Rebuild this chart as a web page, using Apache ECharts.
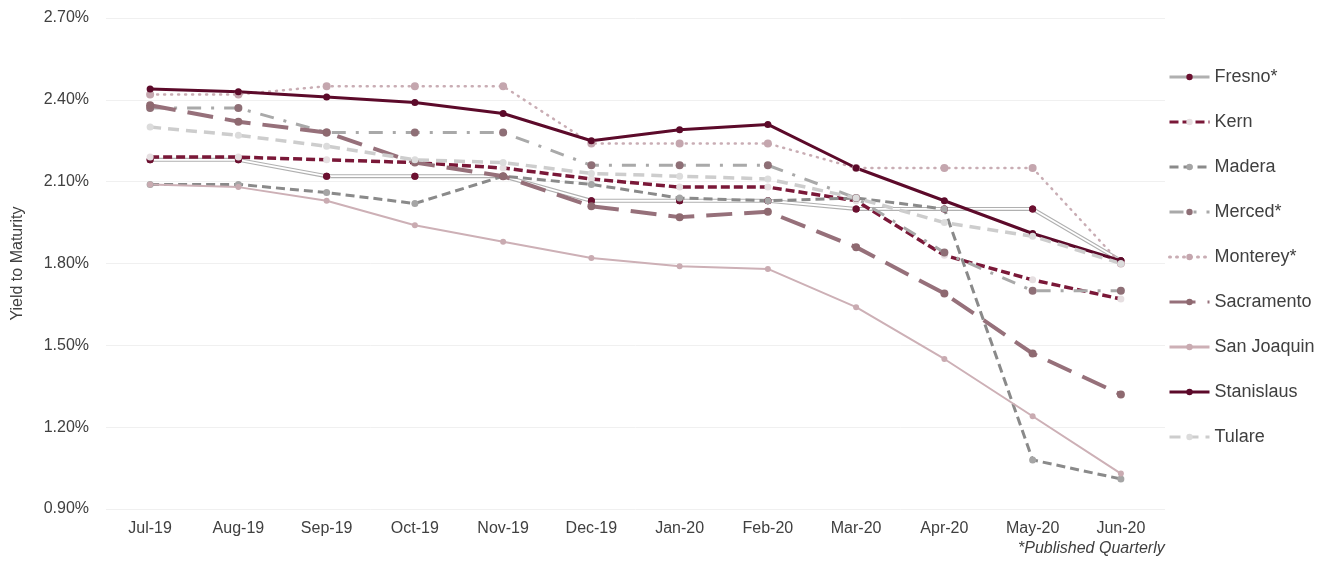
<!DOCTYPE html>
<html>
<head>
<meta charset="utf-8">
<script src="https://cdn.jsdelivr.net/npm/echarts@6/dist/echarts.min.js"></script>
<style>
  html, body { margin: 0; padding: 0; background: #fff; }
  #chart { width: 1327px; height: 561px; }
</style>
</head>
<body>
<div id="chart"></div>
<script>
// months on the x axis
var months = ["Jul-19", "Aug-19", "Sep-19", "Oct-19", "Nov-19", "Dec-19",
  "Jan-20", "Feb-20", "Mar-20", "Apr-20", "May-20", "Jun-20"];

// yield to maturity, in percent
var fresno     = [2.18, 2.18, 2.12, 2.12, 2.12, 2.03, 2.03, 2.03, 2.00, 2.00, 2.00, 1.81];
var kern       = [2.19, 2.19, 2.18, 2.17, 2.15, 2.11, 2.08, 2.08, 2.03, 1.83, 1.74, 1.67];
var madera     = [2.09, 2.09, 2.06, 2.02, 2.12, 2.09, 2.04, 2.03, 2.04, 2.00, 1.08, 1.01];
var merced     = [2.37, 2.37, 2.28, 2.28, 2.28, 2.16, 2.16, 2.16, 2.04, 1.84, 1.70, 1.70];
var monterey   = [2.42, 2.42, 2.45, 2.45, 2.45, 2.24, 2.24, 2.24, 2.15, 2.15, 2.15, 1.80];
var sacramento = [2.38, 2.32, 2.28, 2.17, 2.12, 2.01, 1.97, 1.99, 1.86, 1.69, 1.47, 1.32];
var sanJoaquin = [2.09, 2.08, 2.03, 1.94, 1.88, 1.82, 1.79, 1.78, 1.64, 1.45, 1.24, 1.03];
var stanislaus = [2.44, 2.43, 2.41, 2.39, 2.35, 2.25, 2.29, 2.31, 2.15, 2.03, 1.91, 1.81];
var tulare     = [2.30, 2.27, 2.23, 2.18, 2.17, 2.13, 2.12, 2.11, 2.04, 1.95, 1.90, 1.80];

var legendNames = ["Fresno*", "Kern", "Madera", "Merced*", "Monterey*",
  "Sacramento", "San Joaquin", "Stanislaus", "Tulare"];

var font = "Liberation Sans";
var textColor = "#404040";

function line(name, data, lineColor, markColor, width, type, size, cap) {
  return {
    name: name,
    type: "line",
    data: data,
    symbol: "circle",
    symbolSize: size || 7,
    itemStyle: { color: markColor },
    lineStyle: { color: lineColor, width: width, type: type, cap: cap || "butt" },
    emphasis: { disabled: true }
  };
}

var myChart = echarts.init(document.getElementById("chart"));
myChart.setOption({
  animation: false,
  backgroundColor: "#fff",
  grid: { left: 106, right: 162, top: 18, bottom: 52 },
  legend: {
    data: legendNames,
    orient: "vertical",
    left: 1163,
    top: 63,
    itemWidth: 40,
    itemHeight: 8,
    itemGap: 27,
    lineStyle: { width: 3 },
    textStyle: { fontFamily: font, fontSize: 18, color: textColor }
  },
  xAxis: {
    type: "category",
    data: months,
    boundaryGap: true,
    axisLine: { show: false },
    axisTick: { show: false },
    axisLabel: { fontFamily: font, fontSize: 16, color: textColor, margin: 12, interval: 0 }
  },
  yAxis: {
    type: "value",
    min: 0.9,
    max: 2.7,
    interval: 0.3,
    name: "Yield to Maturity",
    nameLocation: "middle",
    nameRotate: 90,
    nameGap: 80,
    nameTextStyle: { fontFamily: font, fontSize: 16, color: textColor },
    axisLabel: {
      fontFamily: font, fontSize: 16, color: textColor, margin: 17,
      formatter: function (v) { return v.toFixed(2) + "%"; }
    },
    splitLine: { lineStyle: { color: "#f0f0f0", width: 1 } }
  },
  graphic: [{
    type: "text",
    left: 1018,
    top: 541,
    style: {
      text: "*Published Quarterly",
      font: "italic 16px 'Liberation Sans'",
      fill: textColor
    }
  }],
  series: [
    line("Fresno*", fresno, "#b0b0b0", "#6b1030", 4, "solid", 7),
    // white core gives the Fresno line its double-stroke look
    line("Fresno-core", fresno, "#ffffff", "#6b1030", 1.8, "solid", 7),
    line("Kern", kern, "#7a1838", "#e6dfe1", 3.5, [9, 4], 7),
    line("Madera", madera, "#8a8a8a", "#a5a5a5", 3, [9, 5], 7),
    line("Merced*", merced, "#a9a9a9", "#8e6f76", 3, [14, 10, 3, 10], 8),
    line("Monterey*", monterey, "#c9adb4", "#c4a6ae", 2.5, [1, 6], 8, "round"),
    line("Sacramento", sacramento, "#96707a", "#8e6970", 4, [26, 12], 8),
    line("San Joaquin", sanJoaquin, "#cdb0b6", "#c9abb1", 2, "solid", 6),
    line("Stanislaus", stanislaus, "#5c0a2a", "#5c0a2a", 3, "solid", 7),
    line("Tulare", tulare, "#cdcdcd", "#dcdcdc", 3.5, [11, 7], 7)
  ]
});
</script>
</body>
</html>
